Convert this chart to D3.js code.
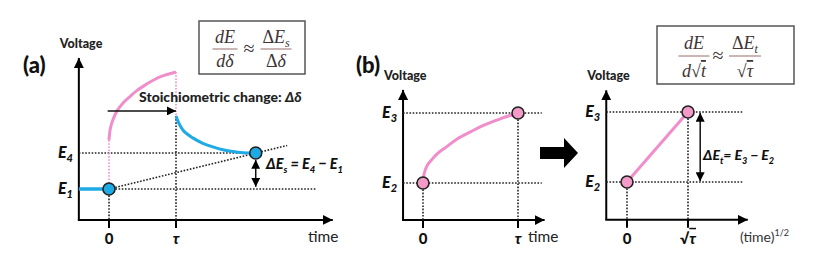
<!DOCTYPE html>
<html><head><meta charset="utf-8">
<script src="https://cdn.jsdelivr.net/npm/d3@7"></script>
<style>body{margin:0;background:#fff}svg{display:block}</style>
</head><body>
<script>
// ---------- DATA ----------
// Panel (a): voltage vs time (τ = 1), E1 = 1, E4 = 2
const aTickLabels = ["0", "τ"];
const aTickValues = [0, 1];
const aLevels = [{sub: "1", v: 1}, {sub: "4", v: 2}];
const aBaseT = [-0.45, 0];
const aBaseV = [1, 1];
const aPulseT = [0, 0.02, 0.06, 0.12, 0.21, 0.32, 0.42, 0.55, 0.66, 0.8, 1.0];
const aPulseV = [2.36, 2.68, 2.93, 3.17, 3.39, 3.58, 3.74, 3.9, 4.02, 4.14, 4.25];
const aRelaxT = [1.0, 1.05, 1.12, 1.25, 1.4, 1.55, 1.7, 1.85, 2.0, 2.19];
const aRelaxV = [3.03, 2.8, 2.6, 2.42, 2.27, 2.17, 2.09, 2.04, 2.01, 2.0];
const aPointsT = [0, 2.19];
const aPointsV = [1, 2];
const aTrendT = [0, 2.66];
const aTrendV = [1, 2.21];

// Panel (b) left: voltage vs time, E2 = 1, E3 = 2
const bTickLabels = ["0", "τ"];
const bTickValues = [0, 1];
const bLevels = [{sub: "2", v: 1}, {sub: "3", v: 2}];
const bCurveT = [0, 0.01, 0.04, 0.09, 0.16, 0.25, 0.36, 0.5, 0.63, 0.8, 1.0];
const bCurveV = [1, 1.12, 1.24, 1.33, 1.43, 1.52, 1.63, 1.73, 1.82, 1.91, 2.0];

// Panel (b) right: voltage vs sqrt(time)
const cTickLabels = ["0", "√τ"];
const cTickValues = [0, 1];
const cLevels = [{sub: "2", v: 1}, {sub: "3", v: 2}];
const cLineT = [0, 1];
const cLineV = [1, 2];

// ---------- STYLE ----------
const PINK = "#f08ecb", BLUE = "#1eaae4", PINKFILL = "#f49ac9";
const FONT = "Lato, 'Open Sans', sans-serif";
const SERIF = "'Liberation Serif', 'DejaVu Serif', serif";

const svg = d3.select("body").append("svg").attr("width", 816).attr("height", 255)
  .style("background", "#fff");

const defs = svg.append("defs");
function marker(id, size) {
  defs.append("marker").attr("id", id).attr("viewBox", "0 0 10 10")
    .attr("refX", 10).attr("refY", 5).attr("markerWidth", size).attr("markerHeight", size)
    .attr("markerUnits", "userSpaceOnUse").attr("orient", "auto-start-reverse")
    .append("path").attr("d", "M0,0 L10,5 L0,10 z").attr("fill", "#000");
}
marker("axarrow", 10);
marker("smarrow", 9);

function panel(cfg) {
  const x = d3.scaleLinear().domain([0, 1]).range(cfg.xr);
  const y = d3.scaleLinear().domain([1, 2]).range(cfg.yr);
  const g = svg.append("g");
  const [tMin, tMax] = cfg.tExt, [vMin, vMax] = cfg.vExt;
  g.selectAll(".tk").data(cfg.tickValues).join("line")
    .attr("x1", d => x(d)).attr("x2", d => x(d))
    .attr("y1", y(vMin)).attr("y2", y(vMin) + 8)
    .attr("stroke", "#000").attr("stroke-width", 2);
  g.selectAll(".tl").data(cfg.tickValues).join("text")
    .attr("x", d => x(d)).attr("y", y(vMin) + 24)
    .attr("text-anchor", "middle").attr("font-family", FONT).attr("font-weight", 900)
    .attr("font-size", 15).attr("fill", "#111")
    .each(function (d, i) {
      const lab = cfg.tickLabels[i];
      const t = d3.select(this);
      if (lab.startsWith("√")) {
        t.append("tspan").text("√");
        t.append("tspan").style("text-decoration", "overline").attr("font-style", "italic").text(lab.slice(1));
      } else {
        t.attr("font-style", lab === "τ" ? "italic" : "normal").text(lab);
      }
    });
  g.selectAll(".lv").data(cfg.levels).join("text")
    .attr("x", x(tMin) - 6).attr("y", d => y(d.v) + 5)
    .attr("text-anchor", "end").attr("font-family", FONT).attr("font-weight", 900)
    .attr("font-style", "italic").attr("font-size", 16).attr("fill", "#111")
    .each(function (d) {
      const t = d3.select(this);
      t.append("tspan").text("E");
      t.append("tspan").attr("font-size", 11).attr("dy", 4).text(d.sub);
    });
  g.append("line").attr("x1", x(tMin)).attr("x2", x(tMin)).attr("y1", y(vMin)).attr("y2", y(vMax))
    .attr("stroke", "#000").attr("stroke-width", 2).attr("marker-end", "url(#axarrow)");
  g.append("line").attr("x1", x(tMin) - 1).attr("x2", x(tMax)).attr("y1", y(vMin)).attr("y2", y(vMax) * 0 + y(vMin))
    .attr("stroke", "#000").attr("stroke-width", 2).attr("marker-end", "url(#axarrow)");
  g.append("text").attr("x", x(tMin) - 19).attr("y", y(vMax) - 10)
    .attr("font-family", FONT).attr("font-weight", 900).attr("font-size", 12.5).attr("fill", "#222")
    .text("Voltage");
  return {x, y, g};
}

function dotted(g, x1, y1, x2, y2, color) {
  g.append("line").attr("x1", x1).attr("y1", y1).attr("x2", x2).attr("y2", y2)
    .attr("stroke", color || "#222").attr("stroke-width", 1.6).attr("stroke-dasharray", "1.6,1.6");
}
function circ(g, cx, cy, fill) {
  g.append("circle").attr("cx", cx).attr("cy", cy).attr("r", 6)
    .attr("fill", fill).attr("stroke", "#222").attr("stroke-width", 1.6);
}
function labelText(g, xx, yy, size, parts) {
  const t = g.append("text").attr("x", xx).attr("y", yy).attr("font-family", FONT).attr("font-weight", 900)
    .attr("font-style", "italic").attr("font-size", size).attr("fill", "#111");
  parts.forEach(p => {
    const s = t.append("tspan").text(p.t);
    if (p.sub) s.attr("font-size", size * 0.65).attr("dy", 4);
    if (p.back) s.attr("dy", -4);
  });
}

// ---------- PANEL (a) ----------
{
  const {x, y, g} = panel({xr: [109, 176], yr: [189, 153], tExt: [-0.45, 3.34], vExt: [0.14, 4.64],
    tickValues: aTickValues, tickLabels: aTickLabels, levels: aLevels});
  const vMin = 0.14;
  dotted(g, x(-0.45), y(2), x(aPointsT[1]), y(2));
  dotted(g, x(0), y(1), x(3.1), y(1));
  dotted(g, x(0), y(1), x(0), y(vMin));
  dotted(g, x(0), y(aPulseV[0]), x(0), y(1), PINK);
  dotted(g, x(1), y(aPulseV[aPulseV.length - 1]), x(1), y(aRelaxV[0]), PINK);
  dotted(g, x(1), y(aRelaxV[0]), x(1), y(vMin));
  dotted(g, x(aTrendT[0]), y(aTrendV[0]), x(aTrendT[1]), y(aTrendV[1]));
  const line = d3.line().x(d => x(d[0])).y(d => y(d[1])).curve(d3.curveCatmullRom.alpha(0.5));
  g.append("path").attr("d", line(d3.zip(aPulseT, aPulseV))).attr("fill", "none")
    .attr("stroke", PINK).attr("stroke-width", 3);
  g.append("path").attr("d", line(d3.zip(aRelaxT, aRelaxV))).attr("fill", "none")
    .attr("stroke", BLUE).attr("stroke-width", 3);
  g.append("path").attr("d", line(d3.zip(aBaseT, aBaseV))).attr("fill", "none")
    .attr("stroke", BLUE).attr("stroke-width", 3.5);
  g.append("line").attr("x1", x(-0.02)).attr("x2", x(1)).attr("y1", y(3.17)).attr("y2", y(3.17))
    .attr("stroke", "#111").attr("stroke-width", 1.5).attr("marker-end", "url(#smarrow)");
  g.append("text").attr("x", 139).attr("y", 102).attr("font-family", FONT).attr("font-weight", 900)
    .attr("font-size", 14).attr("fill", "#222")
    .call(t => { t.append("tspan").text("Stoichiometric change: "); t.append("tspan").attr("font-style", "italic").text("Δδ"); });
  g.append("line").attr("x1", x(aPointsT[1])).attr("x2", x(aPointsT[1])).attr("y1", y(1.81)).attr("y2", y(1.06))
    .attr("stroke", "#111").attr("stroke-width", 1.5)
    .attr("marker-start", "url(#smarrow)").attr("marker-end", "url(#smarrow)");
  labelText(g, 266, 169, 14.5, [{t: "ΔE"}, {t: "s", sub: true}, {t: " = E", back: true}, {t: "4", sub: true},
    {t: " − E", back: true}, {t: "1", sub: true}]);
  aPointsT.forEach((t, i) => circ(g, x(t), y(aPointsV[i]), BLUE));
  g.append("text").attr("x", 308).attr("y", 242).attr("font-family", FONT).attr("font-size", 15.5)
    .attr("fill", "#222").text("time");
  svg.append("text").attr("x", 23).attr("y", 73).attr("font-family", FONT).attr("font-weight", 900)
    .attr("font-size", 22).attr("fill", "#111").text("(a)");
}

// ---------- PANEL (b) left ----------
{
  const {x, y, g} = panel({xr: [423, 518], yr: [183, 113], tExt: [-0.21, 1.28], vExt: [0.47, 2.33],
    tickValues: bTickValues, tickLabels: bTickLabels, levels: bLevels});
  dotted(g, x(-0.21), y(2), x(1.25), y(2));
  dotted(g, x(-0.21), y(1), x(1.25), y(1));
  dotted(g, x(0), y(1), x(0), y(0.47));
  dotted(g, x(1), y(2), x(1), y(0.47));
  const line = d3.line().x(d => x(d[0])).y(d => y(d[1])).curve(d3.curveCatmullRom.alpha(0.5));
  g.append("path").attr("d", line(d3.zip(bCurveT, bCurveV))).attr("fill", "none")
    .attr("stroke", PINK).attr("stroke-width", 3);
  circ(g, x(bCurveT[0]), y(bCurveV[0]), PINKFILL);
  circ(g, x(bCurveT[bCurveT.length - 1]), y(bCurveV[bCurveV.length - 1]), PINKFILL);
  g.append("text").attr("x", 528).attr("y", 242).attr("font-family", FONT).attr("font-size", 15.5)
    .attr("fill", "#222").text("time");
  svg.append("text").attr("x", 356).attr("y", 73).attr("font-family", FONT).attr("font-weight", 900)
    .attr("font-size", 22).attr("fill", "#111").text("(b)");
  svg.append("path").attr("d", "M540,147 L564,147 L564,138 L578,153 L564,168 L564,159 L540,159 Z")
    .attr("fill", "#000");
}

// ---------- PANEL (b) right ----------
{
  const {x, y, g} = panel({xr: [627, 688], yr: [182, 112], tExt: [-0.34, 1.98], vExt: [0.46, 2.31],
    tickValues: cTickValues, tickLabels: cTickLabels, levels: cLevels});
  dotted(g, x(-0.34), y(2), x(1.9), y(2));
  dotted(g, x(-0.34), y(1), x(1.9), y(1));
  dotted(g, x(0), y(1), x(0), y(0.46));
  dotted(g, x(1), y(2), x(1), y(0.46));
  const line = d3.line().x(d => x(d[0])).y(d => y(d[1]));
  g.append("path").attr("d", line(d3.zip(cLineT, cLineV))).attr("fill", "none")
    .attr("stroke", PINK).attr("stroke-width", 3);
  circ(g, x(cLineT[0]), y(cLineV[0]), PINKFILL);
  circ(g, x(cLineT[1]), y(cLineV[1]), PINKFILL);
  g.append("line").attr("x1", x(1.2)).attr("x2", x(1.2)).attr("y1", y(1.99)).attr("y2", y(1.01))
    .attr("stroke", "#111").attr("stroke-width", 1.5)
    .attr("marker-start", "url(#smarrow)").attr("marker-end", "url(#smarrow)");
  labelText(g, 703, 160, 14, [{t: "ΔE"}, {t: "t", sub: true}, {t: "= E", back: true}, {t: "3", sub: true},
    {t: " − E", back: true}, {t: "2", sub: true}]);
  g.append("text").attr("x", 740).attr("y", 242).attr("font-family", FONT).attr("font-size", 14)
    .attr("fill", "#333")
    .call(t => { t.append("tspan").text("(time)"); t.append("tspan").attr("font-size", 9).attr("dy", -6).text("1/2"); });
}

// ---------- FORMULA BOXES ----------
function fracBox(bx, by, bw, bh, f1, f2, numY, lineY, denY, c1, c2, cEq) {
  const g = svg.append("g");
  g.append("rect").attr("x", bx).attr("y", by).attr("width", bw).attr("height", bh)
    .attr("fill", "#fff").attr("stroke", "#555").attr("stroke-width", 1.5);
  const txt = (xx, yy, parts, size) => {
    const t = g.append("text").attr("x", xx).attr("y", yy).attr("text-anchor", "middle")
      .attr("font-family", SERIF).attr("font-size", size || 18).attr("fill", "#3e3434");
    parts.forEach(p => {
      const s = t.append("tspan").text(p.t);
      if (p.it) s.attr("font-style", "italic");
      if (p.sub) s.attr("font-size", 12).attr("dy", 4);
      if (p.over) s.style("text-decoration", "overline");
    });
  };
  [[c1, f1], [c2, f2]].forEach(([cx, f]) => {
    txt(cx, numY, f.num);
    txt(cx, denY, f.den);
    g.append("line").attr("x1", cx - f.w / 2).attr("x2", cx + f.w / 2).attr("y1", lineY).attr("y2", lineY)
      .attr("stroke", "#a07a7a").attr("stroke-width", 1.1);
  });
  txt(cEq, (lineY + 6), [{t: "≈"}], 20);
}
fracBox(199, 21, 106, 53,
  {num: [{t: "dE", it: true}], den: [{t: "dδ", it: true}], w: 25},
  {num: [{t: "Δ"}, {t: "E", it: true}, {t: "s", it: true, sub: true}], den: [{t: "Δ"}, {t: "δ", it: true}], w: 31},
  43, 49, 67, 225, 276, 249);
fracBox(657, 26, 137, 58,
  {num: [{t: "dE", it: true}], den: [{t: "d", it: true}, {t: "√"}, {t: "t", it: true, over: true}], w: 31},
  {num: [{t: "Δ"}, {t: "E", it: true}, {t: "t", it: true, sub: true}], den: [{t: "√"}, {t: "τ", it: true, over: true}], w: 32},
  49, 56, 77, 694, 745, 718);
</script>
</body></html>
